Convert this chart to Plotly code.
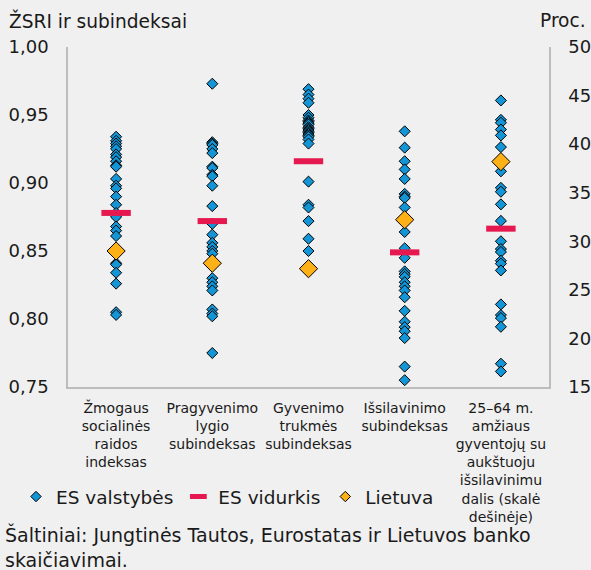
import plotly.graph_objects as go

# ---- data ----
categories = [
    "Žmogaus<br>socialinės<br>raidos<br>indeksas",
    "Pragyvenimo<br>lygio<br>subindeksas",
    "Gyvenimo<br>trukmės<br>subindeksas",
    "Išsilavinimo<br>subindeksas",
    "25–64 m.<br>amžiaus<br>gyventojų su<br>aukštuoju<br>išsilavinimu<br>dalis (skalė<br>dešinėje)",
]

hdi_eu = [0.934, 0.931, 0.929, 0.927, 0.925, 0.921, 0.919, 0.916, 0.913, 0.912, 0.903, 0.898,
          0.896, 0.890, 0.884, 0.878, 0.875, 0.868, 0.865, 0.861, 0.841, 0.840, 0.834, 0.826,
          0.805, 0.803]
living_eu = [0.973, 0.930, 0.929, 0.928, 0.925, 0.922, 0.912, 0.911, 0.906, 0.905, 0.898, 0.883,
             0.870, 0.862, 0.856, 0.853, 0.850, 0.848, 0.830, 0.827, 0.824, 0.821, 0.807, 0.804,
             0.802, 0.775]
life_eu = [0.969, 0.965, 0.962, 0.959, 0.950, 0.948, 0.946, 0.945, 0.944, 0.943, 0.941, 0.940,
           0.939, 0.938, 0.937, 0.936, 0.935, 0.934, 0.932, 0.929, 0.901, 0.884, 0.882, 0.872,
           0.859, 0.850]
edu_eu = [0.938, 0.926, 0.916, 0.910, 0.903, 0.892, 0.890, 0.889, 0.882, 0.864, 0.852, 0.845,
          0.835, 0.833, 0.831, 0.827, 0.824, 0.821, 0.816, 0.806, 0.798, 0.794, 0.791, 0.786,
          0.765, 0.755]
tertiary_eu = [44.5, 42.5, 42.2, 41.5, 40.9, 39.7, 38.0, 37.2, 35.5, 35.1, 33.8, 32.1, 30.0,
               29.2, 28.9, 28.0, 27.7, 27.0, 23.5, 22.4, 22.1, 21.2, 17.4, 16.6]

eu_mean_left = [0.878, 0.872, 0.916, 0.849]
eu_mean_right = [31.3]
lt_left = [0.850, 0.841, 0.837, 0.873]
lt_right = [38.2]

left_eu = [hdi_eu, living_eu, life_eu, edu_eu]

left_ticks = [0.75, 0.80, 0.85, 0.90, 0.95, 1.00]
right_ticks = [15, 20, 25, 30, 35, 40, 45, 50]

# ---- styles ----
BLUE = "#1496d6"
RED = "#e5194f"
ORANGE = "#fdb117"
BG = "#f0f0f0"
AXIS = "#bdbdbd"
TXT = "#1a1a1a"
FONT = "DejaVu Sans"

fig = go.Figure()

# EU countries, left scale
ex, ey = [], []
for i, vals in enumerate(left_eu):
    ex += [i] * len(vals)
    ey += vals
fig.add_trace(go.Scatter(x=ex, y=ey, mode="markers", showlegend=False,
                         marker=dict(symbol="diamond", size=8.5, color=BLUE,
                                     line=dict(color="black", width=1))))
# EU countries, right scale
fig.add_trace(go.Scatter(x=[4] * len(tertiary_eu), y=tertiary_eu, yaxis="y2", mode="markers",
                         showlegend=False,
                         marker=dict(symbol="diamond", size=8.5, color=BLUE,
                                     line=dict(color="black", width=1))))
# EU mean
fig.add_trace(go.Scatter(x=list(range(4)), y=eu_mean_left, mode="markers", showlegend=False,
                         marker=dict(symbol="line-ew", size=21,
                                     line=dict(color=RED, width=6))))
fig.add_trace(go.Scatter(x=[4], y=eu_mean_right, yaxis="y2", mode="markers", showlegend=False,
                         marker=dict(symbol="line-ew", size=21,
                                     line=dict(color=RED, width=6))))
# Lithuania
fig.add_trace(go.Scatter(x=list(range(4)), y=lt_left, mode="markers", showlegend=False,
                         marker=dict(symbol="diamond", size=14, color=ORANGE,
                                     line=dict(color="black", width=1))))
fig.add_trace(go.Scatter(x=[4], y=lt_right, yaxis="y2", mode="markers", showlegend=False,
                         marker=dict(symbol="diamond", size=14, color=ORANGE,
                                     line=dict(color="black", width=1))))

# legend entries
fig.add_trace(go.Scatter(x=[None], y=[None], mode="markers", name="ES valstybės",
                         marker=dict(symbol="diamond", size=8, color=BLUE,
                                     line=dict(color="black", width=1))))
fig.add_trace(go.Scatter(x=[None], y=[None], mode="markers", name="ES vidurkis",
                         marker=dict(symbol="line-ew", size=12,
                                     line=dict(color=RED, width=5))))
fig.add_trace(go.Scatter(x=[None], y=[None], mode="markers", name="Lietuva",
                         marker=dict(symbol="diamond", size=8, color=ORANGE,
                                     line=dict(color="black", width=1))))

W, H = 591, 570
L, R, T, B = 68, 42, 47, 183
pw = W - L - R
ph = H - T - B


def px_x(p):
    return (p - L) / pw


def px_y(p):
    return (H - B - p) / ph


fig.update_layout(
    width=W, height=H,
    margin=dict(l=L, r=R, t=T, b=B, autoexpand=False),
    paper_bgcolor=BG, plot_bgcolor=BG,
    font=dict(family=FONT, size=18, color=TXT),
    separators=", ",
    xaxis=dict(range=[-0.5, 4.5], tickvals=list(range(5)), ticktext=categories,
               tickfont=dict(size=14), showgrid=False, zeroline=False,
               showline=True, linecolor=AXIS, linewidth=1.5, ticks="",
               ticklabelstandoff=7),
    yaxis=dict(range=[0.75, 1.0], tickvals=left_ticks, tickformat=".2f",
               showgrid=False, zeroline=False, showline=True, linecolor=AXIS,
               linewidth=1.5, ticks="", ticklabelstandoff=14),
    yaxis2=dict(range=[15, 50], tickvals=right_ticks, overlaying="y", side="right",
                showgrid=False, zeroline=False, showline=True, linecolor=AXIS,
                linewidth=1.5, ticks="", ticklabelstandoff=14),
    legend=dict(orientation="h", x=px_x(16), xanchor="left", y=px_y(497), yanchor="middle",
                bgcolor="rgba(0,0,0,0)", font=dict(size=18.5)),
    showlegend=True,
    annotations=[
        dict(text="ŽSRI ir subindeksai", xref="paper", yref="paper", x=px_x(7), y=px_y(20),
             xanchor="left", yanchor="middle", showarrow=False, font=dict(size=18.6)),
        dict(text="Proc.", xref="paper", yref="paper", x=px_x(588), y=px_y(20),
             xanchor="right", yanchor="middle", showarrow=False, font=dict(size=18.6)),
        dict(text="Šaltiniai: Jungtinės Tautos, Eurostatas ir Lietuvos banko<br>skaičiavimai.",
             xref="paper", yref="paper", x=px_x(3), y=px_y(547), xanchor="left",
             yanchor="middle", align="left", showarrow=False, font=dict(size=19)),
    ],
)

fig.write_html(
    "out.html",
    config={"displayModeBar": False},
    post_script="document.body.style.margin='0';document.body.style.overflow='hidden';",
)
